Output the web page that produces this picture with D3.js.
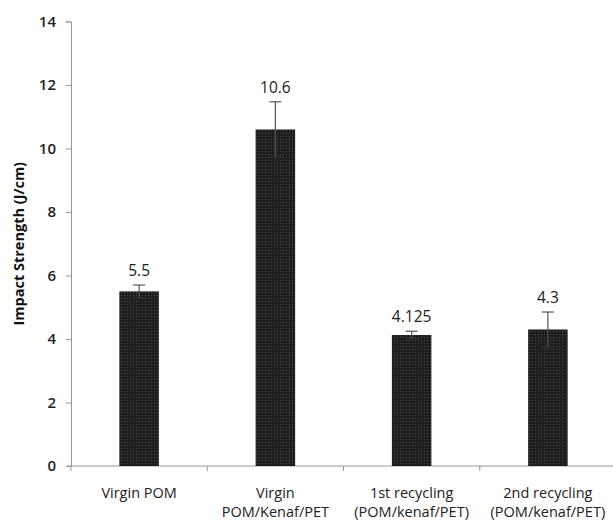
<!DOCTYPE html>
<html>
<head>
<meta charset="utf-8">
<script src="https://cdn.jsdelivr.net/npm/d3@7"></script>
<style>
	body { margin: 0; background: #fff; }
	text { font-family: "Open Sans", "DejaVu Sans", sans-serif; }
</style>
</head>
<body>
<div id="chart"></div>
<script>
(function() {
	"use strict";

	var categories = ['Virgin POM', 'Virgin POM/Kenaf/PET', '1st recycling (POM/kenaf/PET)', '2nd recycling (POM/kenaf/PET)'];
	var categoryLines = [['Virgin POM'], ['Virgin', 'POM/Kenaf/PET'], ['1st recycling', '(POM/kenaf/PET)'], ['2nd recycling', '(POM/kenaf/PET)']];
	var values = [5.5, 10.6, 4.125, 4.3];
	var errors = [0.2, 0.87, 0.12, 0.55];
	var valueLabels = ['5.5', '10.6', '4.125', '4.3'];
	var yTicks = [0, 2, 4, 6, 8, 10, 12, 14];

	var width = 613, height = 522;
	var margin = { left: 71, right: -3, top: 21.5, bottom: 56 };

	var svg = d3.select('#chart')
		.append('svg')
		.attr('width', width)
		.attr('height', height);

	var defs = svg.append('defs');
	var pattern = defs.append('pattern')
		.attr('id', 'dots')
		.attr('patternUnits', 'userSpaceOnUse')
		.attr('width', 3)
		.attr('height', 3);
	pattern.append('rect').attr('width', 3).attr('height', 3).attr('fill', '#1e1e1e');
	pattern.append('rect').attr('x', 1).attr('y', 1).attr('width', 1).attr('height', 1).attr('fill', '#4a4a4a');

	var x = d3.scaleBand()
		.domain(categories)
		.range([margin.left, width - margin.right])
		.paddingInner(0.71)
		.paddingOuter(0.355);

	var y = d3.scaleLinear()
		.domain([0, 14])
		.range([height - margin.bottom, margin.top]);

	// y axis
	var yAxis = svg.append('g')
		.attr('transform', 'translate(' + margin.left + ',0)')
		.call(d3.axisLeft(y).tickValues(yTicks).tickSize(5).tickPadding(10));
	yAxis.selectAll('path, line').attr('stroke', '#999');
	yAxis.selectAll('text')
		.attr('font-size', 15)
		.attr('font-weight', 600)
		.attr('fill', '#222');

	// x axis
	var xAxis = svg.append('g')
		.attr('transform', 'translate(0,' + y(0) + ')');
	xAxis.append('line')
		.attr('x1', margin.left - 5)
		.attr('x2', width)
		.attr('stroke', '#999');
	var bandStep = x.step();
	xAxis.selectAll('.cat-tick')
		.data(categories)
		.enter()
		.append('line')
		.attr('x1', function (d) { return x(d) + x.bandwidth() / 2 - bandStep / 2; })
		.attr('x2', function (d) { return x(d) + x.bandwidth() / 2 - bandStep / 2; })
		.attr('y1', 0)
		.attr('y2', 5)
		.attr('stroke', '#999');

	xAxis.selectAll('.cat-label')
		.data(categories)
		.enter()
		.append('text')
		.attr('text-anchor', 'middle')
		.attr('font-size', 14.5)
		.attr('fill', '#222')
		.attr('x', function (d) { return x(d) + x.bandwidth() / 2; })
		.attr('y', 32)
		.each(function (d, i) {
			var t = d3.select(this);
			categoryLines[i].forEach(function (line, j) {
				t.append('tspan')
					.attr('x', x(d) + x.bandwidth() / 2)
					.attr('dy', j === 0 ? 0 : 19)
					.text(line);
			});
		});

	// bars
	svg.selectAll('.bar')
		.data(values)
		.enter()
		.append('rect')
		.attr('x', function (d, i) { return x(categories[i]); })
		.attr('width', x.bandwidth())
		.attr('y', function (d) { return y(d); })
		.attr('height', function (d) { return y(0) - y(d); })
		.attr('fill', 'url(#dots)');

	// error bars
	var err = svg.selectAll('.err')
		.data(values)
		.enter()
		.append('g');
	err.append('line')
		.attr('x1', function (d, i) { return x(categories[i]) + x.bandwidth() / 2; })
		.attr('x2', function (d, i) { return x(categories[i]) + x.bandwidth() / 2; })
		.attr('y1', function (d, i) { return y(d + errors[i]); })
		.attr('y2', function (d, i) { return y(d - errors[i]); })
		.attr('stroke', '#555')
		.attr('stroke-width', 1.2);
	err.append('line')
		.attr('x1', function (d, i) { return x(categories[i]) + x.bandwidth() / 2 - 6; })
		.attr('x2', function (d, i) { return x(categories[i]) + x.bandwidth() / 2 + 6; })
		.attr('y1', function (d, i) { return y(d + errors[i]); })
		.attr('y2', function (d, i) { return y(d + errors[i]); })
		.attr('stroke', '#555')
		.attr('stroke-width', 1.2);
	err.append('line')
		.attr('x1', function (d, i) { return x(categories[i]) + x.bandwidth() / 2 - 6; })
		.attr('x2', function (d, i) { return x(categories[i]) + x.bandwidth() / 2 + 6; })
		.attr('y1', function (d, i) { return y(d - errors[i]); })
		.attr('y2', function (d, i) { return y(d - errors[i]); })
		.attr('stroke', '#333')
		.attr('stroke-width', 1.2);

	// value labels
	svg.selectAll('.val')
		.data(values)
		.enter()
		.append('text')
		.attr('text-anchor', 'middle')
		.attr('font-size', 15.5)
		.attr('fill', '#222')
		.attr('x', function (d, i) { return x(categories[i]) + x.bandwidth() / 2; })
		.attr('y', function (d, i) { return y(d + errors[i]) - 9; })
		.text(function (d, i) { return valueLabels[i]; });

	// y axis title
	svg.append('text')
		.attr('transform', 'translate(24,' + (y(7)) + ') rotate(-90)')
		.attr('text-anchor', 'middle')
		.attr('font-size', 14.5)
		.attr('font-weight', 'bold')
		.attr('fill', '#111')
		.text('Impact Strength (J/cm)');
}());
</script>
</body>
</html>
